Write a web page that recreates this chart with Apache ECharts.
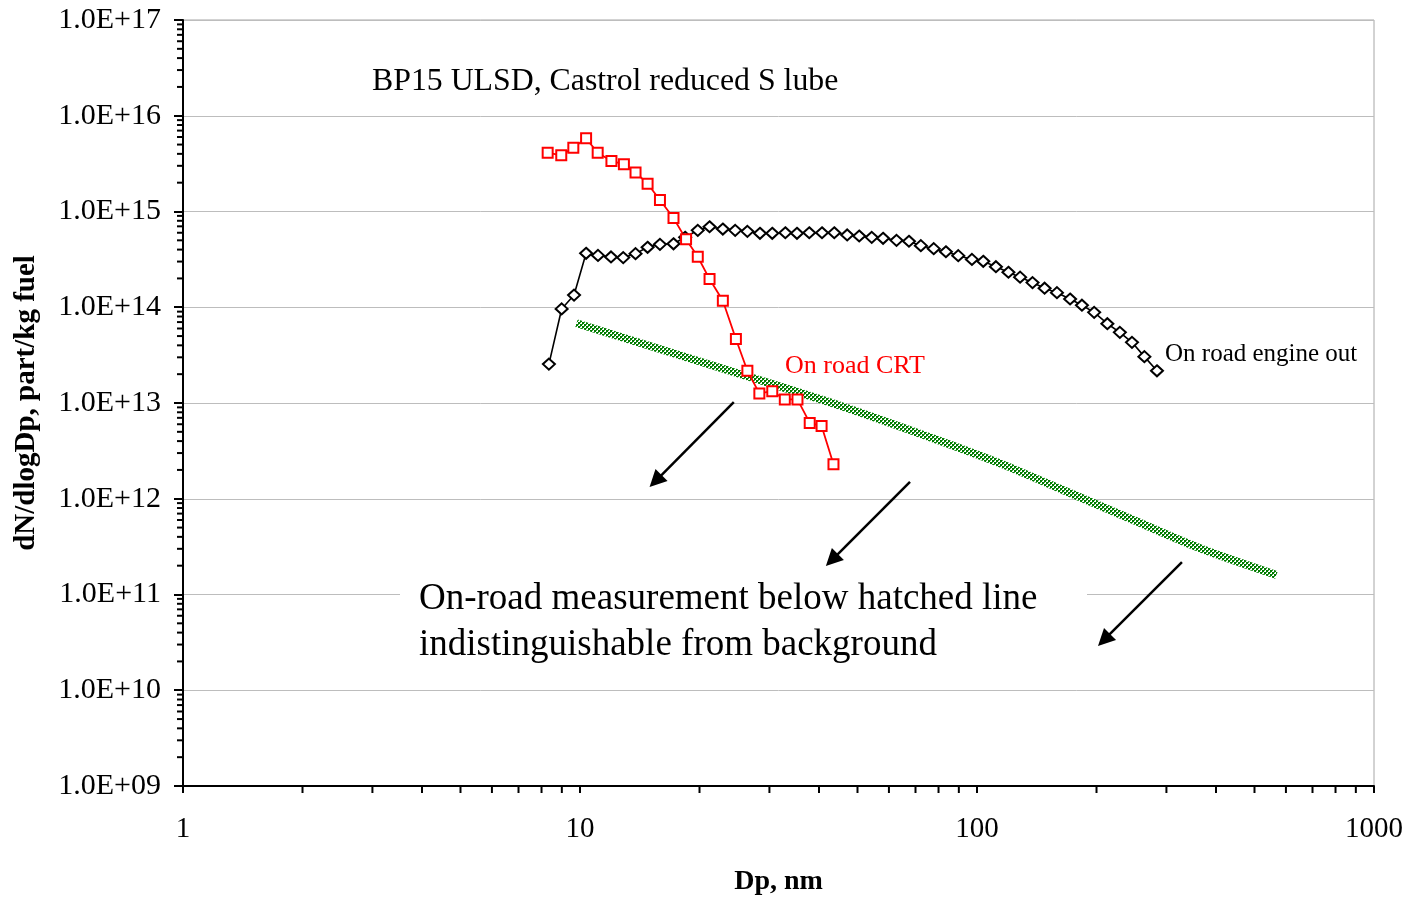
<!DOCTYPE html>
<html>
<head>
<meta charset="utf-8">
<script src="https://cdn.jsdelivr.net/npm/echarts@6/dist/echarts.min.js"></script>
<style>
html,body{margin:0;padding:0;background:#fff;}
#chart{width:1408px;height:897px;}
</style>
</head>
<body>
<div id="chart"></div>
<script>
// ---- data ----
const dpEngine = [8.35, 8.99, 9.66, 10.36, 11.1, 11.97, 12.85, 13.8, 14.8, 15.9, 17.2, 18.4, 19.8, 21.2, 22.9, 24.6, 26.4, 28.4, 30.5, 32.9, 35.2, 37.8, 40.7, 43.7, 47.1, 50.5, 54.3, 58.0, 62.7, 67.4, 72.2, 77.8, 83.5, 89.7, 97.1, 103.7, 111.6, 120, 128.4, 138, 148, 159, 171.6, 183.8, 197.3, 213, 229, 245.7, 264, 284];
const engineOut = [2.55e13, 9.6e13, 1.34e14, 3.66e14, 3.48e14, 3.35e14, 3.3e14, 3.63e14, 4.23e14, 4.54e14, 4.6e14, 5.38e14, 6.36e14, 6.93e14, 6.56e14, 6.36e14, 6.21e14, 5.92e14, 5.92e14, 6.0e14, 5.92e14, 6.0e14, 6.0e14, 6.0e14, 5.69e14, 5.55e14, 5.37e14, 5.25e14, 5.0e14, 4.89e14, 4.4e14, 4.09e14, 3.8e14, 3.46e14, 3.16e14, 3.02e14, 2.65e14, 2.32e14, 2.06e14, 1.81e14, 1.58e14, 1.42e14, 1.22e14, 1.05e14, 8.85e13, 6.73e13, 5.47e13, 4.3e13, 3.05e13, 2.17e13];
const dpCRT = [8.29, 8.97, 9.62, 10.36, 11.08, 12.0, 12.9, 13.8, 14.8, 15.9, 17.2, 18.5, 19.8, 21.2, 22.9, 24.7, 26.4, 28.3, 30.5, 32.8, 35.3, 37.9, 40.6, 43.5];
const crt = [4.11e15, 3.86e15, 4.64e15, 5.81e15, 4.11e15, 3.37e15, 3.11e15, 2.56e15, 1.95e15, 1.32e15, 8.55e14, 5.12e14, 3.37e14, 1.97e14, 1.17e14, 4.66e13, 2.17e13, 1.26e13, 1.33e13, 1.09e13, 1.09e13, 6.2e12, 5.75e12, 2.29e12];
const dpLimit = [9.8, 26.6, 46, 79.5, 114.3, 168, 247.6, 364.6, 568];
const limit = [6.8e13, 1.88e13, 9.15e12, 4.11e12, 2.34e12, 1.19e12, 6.0e11, 3.04e11, 1.6e11];
// arrows: [x1, y1, x2, y2] in data units
const arrows = [
  [24.4, 1.02e13, 15.5, 1.53e12],
  [67.8, 1.5e12, 43.1, 2.29e11],
  [328.3, 2.18e11, 208.9, 3.35e10]
];
const xTickLabels = ['1', '10', '100', '1000'];
const yExponents = [9, 10, 11, 12, 13, 14, 15, 16, 17];
const titleText = 'BP15 ULSD, Castrol reduced S lube';
const noteLines = ['On-road measurement below hatched line', 'indistinguishable from background'];

const SERIF = '"Liberation Serif", "Times New Roman", Times, serif';

function zip(a, b) { return a.map((v, i) => [v, b[i]]); }

// checkered pattern for the hatched line
const pc = document.createElement('canvas');
pc.width = 4; pc.height = 4;
const pctx = pc.getContext('2d');
pctx.fillStyle = '#ffffff'; pctx.fillRect(0, 0, 4, 4);
pctx.fillStyle = '#007a00';
pctx.fillRect(0, 0, 2, 2); pctx.fillRect(2, 2, 2, 2);
pctx.fillStyle = '#3aa83a';
pctx.fillRect(2, 0, 1, 1); pctx.fillRect(0, 2, 1, 1);

// minor tick positions (2..9 per decade)
const xMinor = [], yMinor = [];
for (let d = 0; d < 3; d++) for (let m = 2; m <= 9; m++) xMinor.push([m * Math.pow(10, d), 1e9]);
for (let d = 9; d < 17; d++) for (let m = 2; m <= 9; m++) yMinor.push([1, m * Math.pow(10, d)]);

const chart = echarts.init(document.getElementById('chart'), null, {renderer: 'canvas'});

const option = {
  backgroundColor: '#ffffff',
  animation: false,
  grid: {
    left: 183, right: 34, top: 20, bottom: 111,
    show: true, borderColor: '#a6a6a6', borderWidth: 1,
    containLabel: false, outerBoundsMode: 'none'
  },
  xAxis: {
    type: 'log', logBase: 10, min: 1, max: 1000, splitNumber: 3,
    name: 'Dp, nm', nameLocation: 'middle', nameGap: 82,
    nameTextStyle: {fontFamily: SERIF, fontSize: 28, fontWeight: 'bold', color: '#000'},
    axisLine: {show: true, onZero: false, lineStyle: {color: '#000', width: 2}},
    axisTick: {show: true, inside: false, length: 7, lineStyle: {color: '#000', width: 2}},
    axisLabel: {
      fontFamily: SERIF, fontSize: 29, color: '#000', margin: 29,
      showMinLabel: true, showMaxLabel: true,
      formatter: v => xTickLabels[Math.round(Math.log10(v))]
    },
    splitLine: {show: false},
    minorTick: {show: false}
  },
  yAxis: {
    type: 'log', logBase: 10, min: 1e9, max: 1e17, splitNumber: 8,
    name: 'dN/dlogDp, part/kg fuel', nameLocation: 'middle', nameRotate: 90, nameGap: 142,
    nameTextStyle: {fontFamily: SERIF, fontSize: 29, fontWeight: 'bold', color: '#000'},
    axisLine: {show: true, onZero: false, lineStyle: {color: '#000', width: 2}},
    axisTick: {show: true, inside: false, length: 9, lineStyle: {color: '#000', width: 2}},
    axisLabel: {
      fontFamily: SERIF, fontSize: 30, color: '#000', margin: 22,
      showMinLabel: true, showMaxLabel: true,
      formatter: v => {
        const e = Math.round(Math.log10(v));
        return yExponents.indexOf(e) >= 0 ? '1.0E+' + (e < 10 ? '0' + e : '' + e) : '';
      }
    },
    splitLine: {show: true, lineStyle: {color: '#bdbdbd', width: 1}},
    minorTick: {show: false}
  },
  graphic: [
    {type: 'rect', z: 5, shape: {x: 400, y: 572, width: 687, height: 94}, style: {fill: '#ffffff'}},
    {type: 'text', z: 6, x: 372, y: 82, style: {text: titleText, font: '31.8px ' + SERIF, fill: '#000', verticalAlign: 'middle', textVerticalAlign: 'middle'}},
    {type: 'text', z: 6, x: 785, y: 366, style: {text: 'On road CRT', font: '26px ' + SERIF, fill: '#ff0000', verticalAlign: 'middle', textVerticalAlign: 'middle'}},
    {type: 'text', z: 6, x: 1165, y: 354, style: {text: 'On road engine out', font: '25px ' + SERIF, fill: '#000', verticalAlign: 'middle', textVerticalAlign: 'middle'}},
    {type: 'text', z: 6, x: 419, y: 599, style: {text: noteLines[0], font: '37px ' + SERIF, fill: '#000', verticalAlign: 'middle', textVerticalAlign: 'middle'}},
    {type: 'text', z: 6, x: 419, y: 645, style: {text: noteLines[1], font: '37px ' + SERIF, fill: '#000', verticalAlign: 'middle', textVerticalAlign: 'middle'}}
  ],
  series: [
    {
      name: 'minorX', type: 'custom', silent: true, clip: false, z: 4,
      data: xMinor,
      renderItem: (params, api) => {
        const p = api.coord([api.value(0), api.value(1)]);
        return {type: 'line', shape: {x1: p[0], y1: p[1], x2: p[0], y2: p[1] + 7}, style: {stroke: '#000', lineWidth: 2}};
      }
    },
    {
      name: 'minorY', type: 'custom', silent: true, clip: false, z: 4,
      data: yMinor,
      renderItem: (params, api) => {
        const p = api.coord([api.value(0), api.value(1)]);
        return {type: 'line', shape: {x1: p[0] - 6, y1: p[1], x2: p[0], y2: p[1]}, style: {stroke: '#000', lineWidth: 2}};
      }
    },
    {
      name: 'Detection limit', type: 'line', z: 2,
      data: zip(dpLimit, limit), smooth: 0.3, showSymbol: false, symbol: 'none',
      lineStyle: {width: 8, color: {image: pc, repeat: 'repeat'}, cap: 'butt'}
    },
    {
      name: 'On road engine out', type: 'line', z: 3,
      data: zip(dpEngine, engineOut),
      symbol: 'diamond', symbolSize: [12, 11],
      lineStyle: {color: '#000', width: 1.6},
      itemStyle: {color: '#fff', borderColor: '#000', borderWidth: 2}
    },
    {
      name: 'On road CRT', type: 'line', z: 3,
      data: zip(dpCRT, crt),
      symbol: 'rect', symbolSize: 10,
      lineStyle: {color: '#ff0000', width: 1.8},
      itemStyle: {color: '#fff', borderColor: '#ff0000', borderWidth: 2}
    },
    {
      name: 'Arrows', type: 'lines', coordinateSystem: 'cartesian2d', z: 3,
      symbol: ['none', 'triangle'], symbolSize: [0, 17],
      lineStyle: {color: '#000', width: 2.5, opacity: 1},
      itemStyle: {color: '#000'},
      data: arrows.map(a => ({coords: [[a[0], a[1]], [a[2], a[3]]]}))
    }
  ]
};
chart.setOption(option);
</script>
</body>
</html>
